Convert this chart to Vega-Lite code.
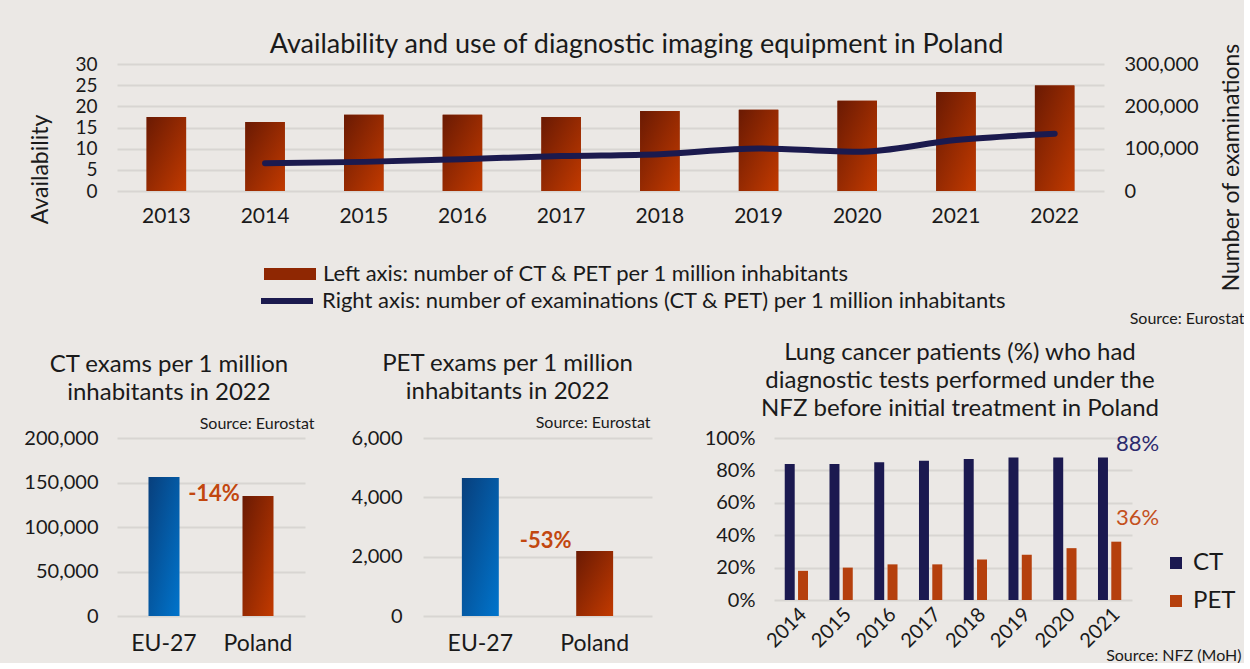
{
  "$schema": "https://vega.github.io/schema/vega-lite/v6.json",
  "padding": {"left": 23, "top": 30, "right": 0, "bottom": 0},
  "background": "#ebe8e5",
  "align": "none",
  "spacing": 15,
  "resolve": {"legend": {"color": "independent", "fill": "independent", "stroke": "independent"}, "scale": {"color": "independent", "fill": "independent", "stroke": "independent"}},
  "config": {
    "font": "Lato",
    "view": {"stroke": null},
    "axis": {"labelColor": "#1a1a1a", "titleColor": "#1a1a1a", "labelFont": "Lato", "titleFont": "Lato", "domain": false, "ticks": false, "gridColor": "#d8d5d2", "gridWidth": 2, "titleFontWeight": "normal"},
    "axisX": {"grid": false},
    "title": {"font": "Lato", "fontWeight": "normal", "color": "#1a1a1a", "frame": "bounds"},
    "legend": {"labelFont": "Lato", "labelColor": "#1a1a1a", "padding": 0, "labelLimit": 900}
  },
  "vconcat": [
    {
      "width": 987,
      "height": 127,
      "title": {"text": "Availability and use of diagnostic imaging equipment in Poland", "fontSize": 27, "offset": -16},
      "data": {"values": [
        {"year": "2013", "avail": 17.5},
        {"year": "2014", "avail": 16.3, "exams": 65700},
        {"year": "2015", "avail": 18.0, "exams": 68800},
        {"year": "2016", "avail": 18.0, "exams": 75200},
        {"year": "2017", "avail": 17.5, "exams": 82400},
        {"year": "2018", "avail": 18.9, "exams": 87100},
        {"year": "2019", "avail": 19.2, "exams": 100600},
        {"year": "2020", "avail": 21.3, "exams": 92600},
        {"year": "2021", "avail": 23.4, "exams": 120300},
        {"year": "2022", "avail": 24.9, "exams": 135300}
      ]},
      "layer": [
        {
          "encoding": {
            "x": {"field": "year", "type": "nominal", "scale": {"paddingInner": 0.6, "paddingOuter": 0.3},
              "axis": {"labelAngle": 0, "labelFontSize": 21, "labelPadding": 14, "title": "Source: Eurostat", "titleFontSize": 16, "titleX": 1127, "titleY": 127, "titleAlign": "right", "titleBaseline": "middle"}},
            "y": {"field": "avail", "type": "quantitative", "scale": {"domain": [0, 30]},
              "axis": {"values": [0, 5, 10, 15, 20, 25, 30], "format": "d", "labelFontSize": 19, "labelPadding": 20, "title": "Availability", "titleFontSize": 23, "titleX": -77, "titleY": 105, "titleBaseline": "middle"}}
          },
          "layer": [
            {
              "mark": {"type": "bar"},
              "encoding": {
                "fill": {"datum": "Left axis: number of CT & PET per 1 million inhabitants", "type": "nominal", "scale": {"range": ["#8f2702"]},
                  "legend": {"orient": "none", "legendX": 162, "legendY": 199, "title": null, "symbolType": "M-2.6,-0.6H2.6V0.6H-2.6Z", "symbolSize": 400, "symbolStrokeWidth": 0, "labelFontSize": 22, "labelOffset": 22}}
              }
            },
            {
              "mark": {"type": "bar", "color": {"gradient": "linear", "x1": 0, "y1": 0, "x2": 1, "y2": 1, "stops": [{"offset": 0, "color": "#6a1a03"}, {"offset": 1, "color": "#c23a00"}]}}
            }
          ]
        },
        {
          "transform": [{"filter": "datum.exams != null"}],
          "mark": {"type": "line", "strokeWidth": 6, "interpolate": "monotone", "strokeCap": "round"},
          "encoding": {
            "x": {"field": "year", "type": "nominal"},
            "y": {"field": "exams", "type": "quantitative", "scale": {"domain": [0, 300000]},
              "axis": {"orient": "right", "grid": false, "values": [0, 100000, 200000, 300000], "format": ",d", "labelFontSize": 20, "labelPadding": 20, "title": "Number of examinations", "titleFontSize": 23, "titleAngle": -90, "titleX": 127, "titleY": 103, "titleBaseline": "middle"}},
            "stroke": {"datum": "Right axis: number of examinations (CT & PET) per 1 million inhabitants", "type": "nominal", "scale": {"range": ["#1b1a4e"]},
              "legend": {"orient": "none", "legendX": 157, "legendY": 224, "title": null, "symbolType": "M-2.6,0H2.6", "symbolSize": 400, "symbolStrokeWidth": 6, "labelFontSize": 22, "labelOffset": 22}}
          }
        }
      ],
      "resolve": {"scale": {"y": "independent"}}
    },
    {
      "spacing": 37,
      "resolve": {"legend": {"color": "independent"}, "scale": {"color": "independent"}},
      "hconcat": [
        {
          "width": 188,
          "height": 178,
          "title": {"text": ["CT exams per 1 million", "inhabitants in 2022"], "fontSize": 24, "lineHeight": 28, "offset": 10},
          "data": {"values": [{"region": "EU-27", "exams": 156200}, {"region": "Poland", "exams": 134800}]},
          "encoding": {
            "x": {"field": "region", "type": "nominal", "sort": null, "scale": {"domain": ["EU-27", "Poland"], "paddingInner": 0.67, "paddingOuter": 0.335},
              "axis": {"labelAngle": 0, "labelFontSize": 23, "labelPadding": 16, "title": "Source: Eurostat", "titleFontSize": 16, "titleX": 197, "titleY": -193, "titleAlign": "right", "titleBaseline": "middle"}},
            "y": {"field": "exams", "type": "quantitative", "scale": {"domain": [0, 200000]},
              "axis": {"values": [0, 50000, 100000, 150000, 200000], "format": ",d", "labelFontSize": 20, "labelPadding": 19, "title": null}}
          },
          "layer": [
            {
              "transform": [{"filter": "datum.region === 'EU-27'"}],
              "mark": {"type": "bar", "color": {"gradient": "linear", "x1": 0, "y1": 0, "x2": 1, "y2": 1, "stops": [{"offset": 0, "color": "#083f7c"}, {"offset": 1, "color": "#0074cc"}]}}
            },
            {
              "transform": [{"filter": "datum.region === 'Poland'"}],
              "mark": {"type": "bar", "color": {"gradient": "linear", "x1": 0, "y1": 0, "x2": 1, "y2": 1, "stops": [{"offset": 0, "color": "#6a1a03"}, {"offset": 1, "color": "#c23a00"}]}}
            },
            {
              "data": {"values": [{"region": "Poland", "change": "-14%", "pos": 137000}]},
              "mark": {"type": "text", "fontSize": 22, "fontWeight": "bold", "color": "#c2470f", "baseline": "middle", "dx": -44},
              "encoding": {
                "y": {"field": "pos", "type": "quantitative", "scale": {"domain": [0, 200000]},
                  "axis": {"values": [0, 50000, 100000, 150000, 200000], "format": ",d", "labelFontSize": 20, "labelPadding": 19, "title": null}},
                "text": {"field": "change"}
              }
            }
          ]
        },
        {
          "width": 229,
          "height": 178,
          "title": {"text": ["PET exams per 1 million", "inhabitants in 2022"], "fontSize": 24, "lineHeight": 28, "offset": 10, "dx": 6},
          "data": {"values": [{"region": "EU-27", "exams": 4650}, {"region": "Poland", "exams": 2190}]},
          "encoding": {
            "x": {"field": "region", "type": "nominal", "sort": null, "scale": {"domain": ["EU-27", "Poland"], "paddingInner": 0.677, "paddingOuter": 0.34},
              "axis": {"labelAngle": 0, "labelFontSize": 23, "labelPadding": 16, "title": "Source: Eurostat", "titleFontSize": 16, "titleX": 227, "titleY": -194, "titleAlign": "right", "titleBaseline": "middle"}},
            "y": {"field": "exams", "type": "quantitative", "scale": {"domain": [0, 6000]},
              "axis": {"values": [0, 2000, 4000, 6000], "format": ",d", "labelFontSize": 20, "labelPadding": 21, "title": null}}
          },
          "layer": [
            {
              "transform": [{"filter": "datum.region === 'EU-27'"}],
              "mark": {"type": "bar", "color": {"gradient": "linear", "x1": 0, "y1": 0, "x2": 1, "y2": 1, "stops": [{"offset": 0, "color": "#083f7c"}, {"offset": 1, "color": "#0074cc"}]}}
            },
            {
              "transform": [{"filter": "datum.region === 'Poland'"}],
              "mark": {"type": "bar", "color": {"gradient": "linear", "x1": 0, "y1": 0, "x2": 1, "y2": 1, "stops": [{"offset": 0, "color": "#6a1a03"}, {"offset": 1, "color": "#c23a00"}]}}
            },
            {
              "data": {"values": [{"region": "Poland", "change": "-53%", "pos": 2530}]},
              "mark": {"type": "text", "fontSize": 22, "fontWeight": "bold", "color": "#c2470f", "baseline": "middle", "dx": -49},
              "encoding": {
                "y": {"field": "pos", "type": "quantitative", "scale": {"domain": [0, 6000]},
                  "axis": {"values": [0, 2000, 4000, 6000], "format": ",d", "labelFontSize": 20, "labelPadding": 21, "title": null}},
                "text": {"field": "change"}
              }
            }
          ]
        },
        {
          "width": 358,
          "height": 162,
          "title": {"text": ["Lung cancer patients (%) who had", "diagnostic tests performed under the", "NFZ before initial treatment in Poland"], "fontSize": 24, "lineHeight": 28, "offset": 7, "frame": "group", "dx": 7},
          "data": {"values": [
            {"year": "2014", "test": "CT", "share": 0.84}, {"year": "2014", "test": "PET", "share": 0.18},
            {"year": "2015", "test": "CT", "share": 0.84}, {"year": "2015", "test": "PET", "share": 0.20},
            {"year": "2016", "test": "CT", "share": 0.85}, {"year": "2016", "test": "PET", "share": 0.22},
            {"year": "2017", "test": "CT", "share": 0.86}, {"year": "2017", "test": "PET", "share": 0.22},
            {"year": "2018", "test": "CT", "share": 0.87}, {"year": "2018", "test": "PET", "share": 0.25},
            {"year": "2019", "test": "CT", "share": 0.88}, {"year": "2019", "test": "PET", "share": 0.28},
            {"year": "2020", "test": "CT", "share": 0.88}, {"year": "2020", "test": "PET", "share": 0.32},
            {"year": "2021", "test": "CT", "share": 0.88}, {"year": "2021", "test": "PET", "share": 0.36}
          ]},
          "encoding": {
            "x": {"field": "year", "type": "nominal", "scale": {"paddingInner": 0.48, "paddingOuter": 0.24},
              "axis": {"labelAngle": -45, "labelFontSize": 20, "labelPadding": 4, "title": "Source: NFZ (MoH)", "titleFontSize": 16, "titleX": 467, "titleY": 55, "titleAlign": "right", "titleBaseline": "middle"}},
            "y": {"field": "share", "type": "quantitative", "scale": {"domain": [0, 1]},
              "axis": {"values": [0, 0.2, 0.4, 0.6, 0.8, 1], "format": ".0%", "labelFontSize": 20, "labelPadding": 19, "labelOverlap": false, "title": " ", "titleFontSize": 10, "titleX": -80, "titleY": 80, "titleBaseline": "middle"}}
          },
          "layer": [
            {
              "mark": {"type": "bar"},
              "encoding": {
                "xOffset": {"field": "test", "type": "nominal", "scale": {"paddingInner": 0.25}},
                "color": {"field": "test", "type": "nominal", "scale": {"domain": ["CT", "PET"], "range": ["#1b1950", "#b5400d"]},
                  "legend": {"orient": "none", "legendX": 390, "legendY": 113, "title": null, "symbolType": "square", "symbolSize": 144, "labelFontSize": 24, "rowPadding": 14, "labelOffset": 5, "symbolStrokeWidth": 0}}
              }
            },
            {
              "transform": [{"filter": "datum.year === '2021'"}],
              "mark": {"type": "text", "fontSize": 22, "dx": 28, "dy": {"expr": "datum.test === 'CT' ? -13 : -24"}, "baseline": "middle", "align": "center"},
              "encoding": {
                "text": {"field": "share", "format": ".0%"},
                "color": {"field": "test", "type": "nominal", "scale": {"domain": ["CT", "PET"], "range": ["#2b2a6e", "#c4501c"]}, "legend": null}
              }
            }
          ],
          "resolve": {"scale": {"color": "independent"}}
        }
      ]
    }
  ]
}
